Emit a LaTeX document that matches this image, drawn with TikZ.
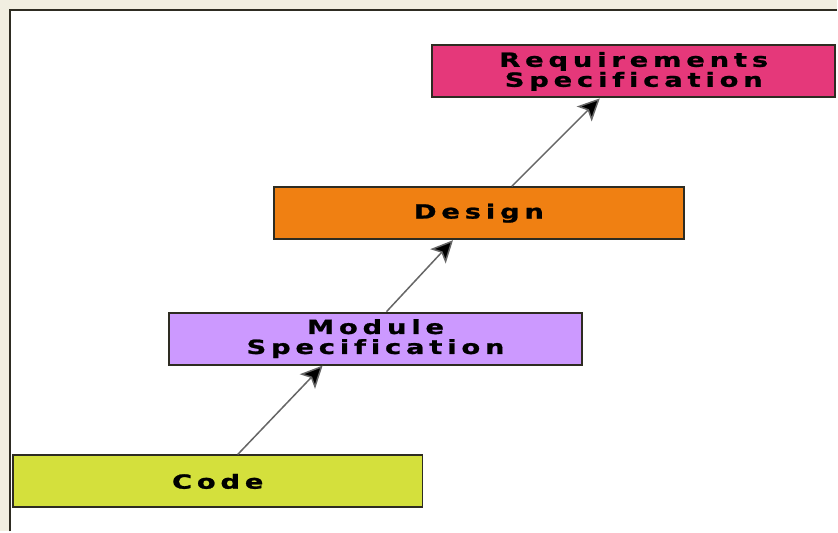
\documentclass[tikz,border=0pt]{standalone}
\usepackage{fontspec}
\usetikzlibrary{arrows.meta,calc}
\newfontfamily\boxfont[FakeStretch=1.4,LetterSpace=25,FakeBold=1.2,Ligatures=NoCommon]{DejaVu Sans Bold}
\definecolor{frame}{HTML}{F1EEE1}
\definecolor{edge}{HTML}{2E2C22}
\definecolor{reqpink}{HTML}{E5387A}
\definecolor{designorange}{HTML}{F08012}
\definecolor{modlilac}{HTML}{CC99FF}
\definecolor{codelime}{HTML}{D4E03C}
\tikzset{
  % one stage of the refinement chain: coloured bar, heavy wide lettering
  stage/.style={
    draw=edge, line width=2pt, rectangle,
    minimum height=52pt, inner sep=0pt, align=center,
    font=\boxfont\fontsize{19.5}{20}\selectfont,
  },
  flow/.style={draw=black!60, line width=1.5pt,
    -{Stealth[length=22pt,width=21pt,inset=5pt,fill=black]}},
}
\newcommand{\stagebox}[5]{%
  \node[stage, fill=#4, minimum width=#3] (#1) at (#2) {#5};}

\begin{document}
\begin{tikzpicture}[x=1pt,y=1pt]

% ----- page and panel -----
\fill[frame] (0,0) rectangle (838,-532);
\fill[white] (10,-10) rectangle (838,-532);
\draw[edge, line width=2pt] (10,-532) -- (10,-10) -- (838,-10);
\useasboundingbox (0,0) rectangle (838,-532);

% ----- stages, top to bottom -----
\stagebox{req}{634.5,-71.5}{403pt}{reqpink}{Requirements\\Specification}
\stagebox{design}{479.5,-213.5}{411pt}{designorange}{Design}
\stagebox{module}{376,-339}{414pt}{modlilac}{Module\\Specification}
\stagebox{code}{218,-482}{410pt}{codelime}{Code}

% ----- arrows upward -----
\draw[flow] ([xshift=20pt]code.north) -- ([xshift=-53pt]module.south);
\draw[flow] ([xshift=11pt]module.north) -- ([xshift=-26pt]design.south);
\draw[flow] ([xshift=33pt]design.north) -- ([xshift=-34pt]req.south);

\end{tikzpicture}
\end{document}
